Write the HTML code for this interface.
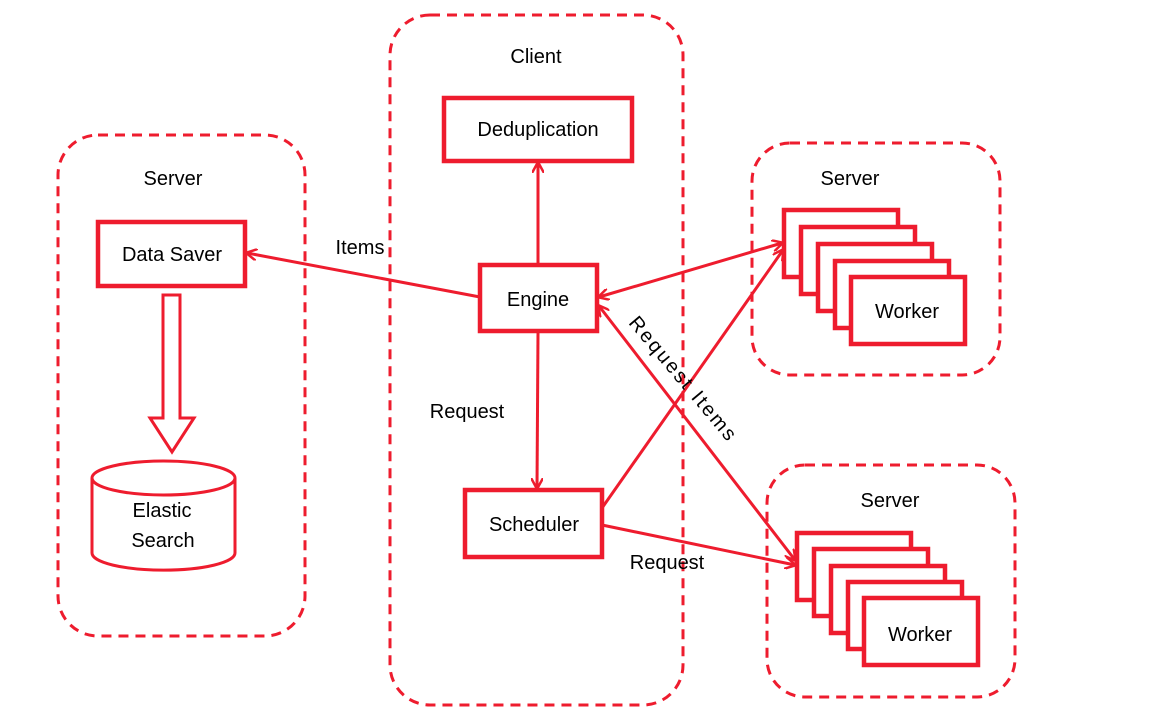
<!DOCTYPE html>
<html><head><meta charset="utf-8"><style>
html,body{margin:0;padding:0;background:#fff;}
svg{display:block;font-family:"Liberation Sans",sans-serif;}
text{font-size:20px;fill:#000;}
</style></head><body>
<svg width="1168" height="722" viewBox="0 0 1168 722" xmlns="http://www.w3.org/2000/svg">
<defs>
<marker id="ah" markerWidth="12" markerHeight="12" refX="10" refY="6" orient="auto-start-reverse" markerUnits="userSpaceOnUse">
<path d="M0,0 L11,6 L0,12" fill="none" stroke="#ee1c2e" stroke-width="2.5"/>
</marker>
</defs>
<g fill="none" stroke="#ee1c2e" stroke-width="3" stroke-dasharray="10,7">
<rect x="58" y="135" width="247" height="501" rx="40"/>
<rect x="390" y="15" width="293" height="690" rx="40"/>
<rect x="752" y="143" width="248" height="232" rx="38"/>
<rect x="767" y="465" width="248" height="232" rx="38"/>
</g>
<g fill="#fff" stroke="#ee1c2e" stroke-width="4.5">
<rect x="444" y="98" width="188" height="63"/>
<rect x="98" y="222" width="147" height="64"/>
<rect x="480" y="265" width="117" height="66"/>
<rect x="465" y="490" width="137" height="67"/>
<rect x="784" y="210" width="114" height="67"/>
<rect x="801" y="227" width="114" height="67"/>
<rect x="818" y="244" width="114" height="67"/>
<rect x="835" y="261" width="114" height="67"/>
<rect x="851" y="277" width="114" height="67"/>
<rect x="797" y="533" width="114" height="67"/>
<rect x="814" y="549" width="114" height="67"/>
<rect x="831" y="566" width="114" height="67"/>
<rect x="848" y="582" width="114" height="67"/>
<rect x="864" y="598" width="114" height="67"/>
</g>
<g fill="#fff" stroke="#ee1c2e" stroke-width="3">
<path d="M163,295 L180,295 L180,418 L194,418 L172,452 L150,418 L163,418 Z"/>
<path d="M92,478 L92,553 A71,17 0 0 0 235,553 L235,478"/>
<ellipse cx="163.5" cy="478" rx="71.5" ry="17"/>
</g>
<g stroke="#ee1c2e" stroke-width="3" fill="none">
<line x1="480" y1="297" x2="247" y2="253" marker-end="url(#ah)"/>
<line x1="538" y1="263" x2="538" y2="163" marker-end="url(#ah)"/>
<line x1="538" y1="333" x2="537" y2="488" marker-end="url(#ah)"/>
<line x1="599" y1="297" x2="782" y2="243" marker-start="url(#ah)" marker-end="url(#ah)"/>
<line x1="602" y1="508" x2="783" y2="250" marker-end="url(#ah)"/>
<line x1="599" y1="306" x2="795" y2="560" marker-start="url(#ah)" marker-end="url(#ah)"/>
<line x1="602" y1="525" x2="795" y2="565" marker-end="url(#ah)"/>
</g>
<text x="536" y="63" text-anchor="middle">Client</text>
<text x="173" y="185" text-anchor="middle">Server</text>
<text x="850" y="185" text-anchor="middle">Server</text>
<text x="890" y="507" text-anchor="middle">Server</text>
<text x="538" y="136" text-anchor="middle">Deduplication</text>
<text x="172" y="261" text-anchor="middle">Data Saver</text>
<text x="538" y="306" text-anchor="middle">Engine</text>
<text x="534" y="531" text-anchor="middle">Scheduler</text>
<text x="907" y="318" text-anchor="middle">Worker</text>
<text x="920" y="641" text-anchor="middle">Worker</text>
<text x="162" y="517" text-anchor="middle">Elastic</text>
<text x="163" y="547" text-anchor="middle">Search</text>
<text x="360" y="254" text-anchor="middle">Items</text>
<text x="467" y="418" text-anchor="middle">Request</text>
<text x="667" y="569" text-anchor="middle">Request</text>
<text x="683" y="385" text-anchor="middle" transform="rotate(50 683 378)" textLength="155">Request Items</text>
</svg>
</body></html>
